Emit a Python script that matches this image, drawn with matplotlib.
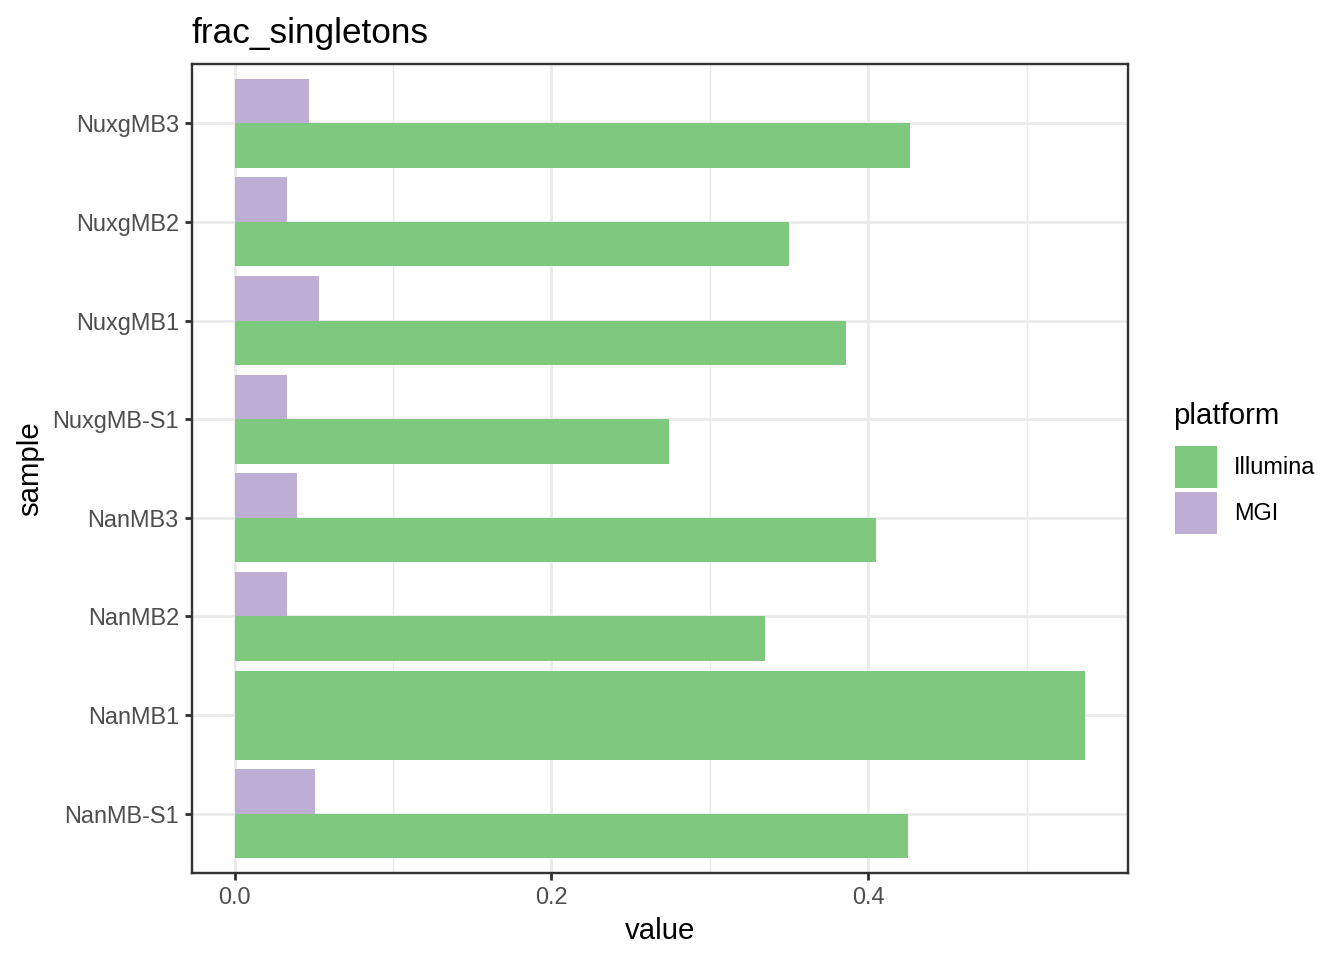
import numpy as np
import matplotlib.pyplot as plt
from matplotlib.patches import Rectangle

# data (bottom to top, as drawn)
samples = ['NanMB-S1', 'NanMB1', 'NanMB2', 'NanMB3',
           'NuxgMB-S1', 'NuxgMB1', 'NuxgMB2', 'NuxgMB3']
illumina = [0.4250, 0.5370, 0.3350, 0.4048, 0.2740, 0.3860, 0.3502, 0.4263]
mgi = [0.0505, np.nan, 0.0328, 0.0397, 0.0334, 0.0530, 0.0328, 0.0467]
platforms = ['Illumina', 'MGI']
colors = {'Illumina': '#7FC97F', 'MGI': '#BEAED4'}

plt.rcParams['font.family'] = ['Liberation Sans', 'DejaVu Sans']

fig = plt.figure(figsize=(7, 5), dpi=192)
ax = fig.add_axes([192 / 1344, 1 - 873 / 960, (1128 - 192) / 1344, (873 - 64) / 960])

y = np.arange(len(samples))
w = 0.9
for i, s in enumerate(samples):
    if np.isnan(mgi[i]):
        ax.barh(y[i], illumina[i], height=w, color=colors['Illumina'], lw=0, zorder=2)
    else:
        ax.barh(y[i] - w / 4, illumina[i], height=w / 2, color=colors['Illumina'], lw=0, zorder=2)
        ax.barh(y[i] + w / 4, mgi[i], height=w / 2, color=colors['MGI'], lw=0, zorder=2)

xmax = np.nanmax(illumina)
ax.set_xlim(-0.05 * xmax, xmax * 1.05)
ax.set_ylim(-0.6, len(samples) - 0.4)

ax.set_xticks([0.0, 0.2, 0.4])
ax.set_xticklabels(['0.0', '0.2', '0.4'])
ax.set_xticks([0.1, 0.3, 0.5], minor=True)
ax.set_yticks(y)
ax.set_yticklabels(samples)

ax.grid(True, which='major', color='#EBEBEB', linewidth=1.07, zorder=0)
ax.grid(True, which='minor', axis='x', color='#EBEBEB', linewidth=0.53, zorder=0)
ax.set_axisbelow(True)
ax.tick_params(which='major', length=2.75, width=1.07, color='#333333',
               labelsize=8.8, labelcolor='#4D4D4D', pad=2.2)
ax.tick_params(which='minor', length=0)
for sp in ax.spines.values():
    sp.set_color('#333333')
    sp.set_linewidth(0.9)

ax.set_xlabel('value', fontsize=11, labelpad=3)
ax.set_ylabel('sample', fontsize=11, labelpad=3)
ax.set_title('frac_singletons', fontsize=13.2, loc='left', pad=8)

# legend drawn by hand, ggplot style
fig.text(1173 / 1344, 1 - 416 / 960, 'platform', fontsize=11, va='center', ha='left')
for k, p in enumerate(platforms):
    top = 446 + k * 46
    fig.add_artist(Rectangle((1175 / 1344, 1 - (top + 42) / 960), 42 / 1344, 42 / 960,
                             transform=fig.transFigure, facecolor=colors[p], linewidth=0))
    fig.text(1234 / 1344, 1 - (top + 21) / 960, p, fontsize=8.8, va='center', ha='left')

fig.savefig('out.png', dpi=192)
